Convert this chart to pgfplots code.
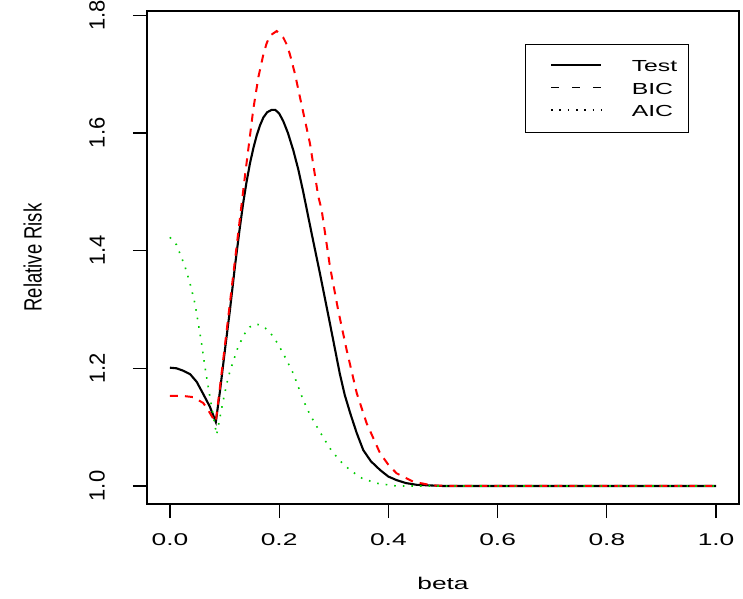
\documentclass[border=0pt]{standalone}
\usepackage{fontspec}
\usepackage{pgfplots}
\pgfplotsset{compat=1.18}
\setmainfont{Liberation Sans}
\newfontfamily\hfont{Liberation Sans}[FakeStretch=1.55]
\newfontfamily\vfont{Liberation Sans}[FakeStretch=0.74]
\definecolor{rred}{RGB}{255,0,0}
\definecolor{rgreen}{RGB}{0,205,0}

\begin{document}
\begin{tikzpicture}
\path[use as bounding box] (-147pt,-94pt) rectangle (596pt,504pt);
\begin{axis}[
  scale only axis, width=592pt, height=493pt,
  xmin=-0.042, xmax=1.042, ymin=0.9694, ymax=1.8071,
  xtick={0,0.2,0.4,0.6,0.8,1.0}, ytick={1.0,1.2,1.4,1.6,1.8},
  tick pos=left, tick align=outside, major tick length=14pt,
  tick style={black, line width=1.3pt},
  axis line style={black, line width=1.5pt},
  /pgf/number format/.cd, fixed, fixed zerofill, precision=1, assume math mode=true,
  /pgfplots/.cd,
  xticklabel style={font=\hfont\fontsize{17}{17}\selectfont, anchor=north, inner sep=0pt},
  yticklabel style={font=\fontsize{22}{22}\selectfont, rotate=90, anchor=south, inner sep=0pt},
  xticklabel shift=15pt, yticklabel shift=28pt,
  xlabel={beta}, ylabel={Relative Risk},
  xlabel style={font=\hfont\fontsize{17}{17}\selectfont, at={(axis description cs:0.5,0)}, anchor=north, inner sep=0pt, yshift=-73pt},
  ylabel style={font=\vfont\fontsize{25}{25}\selectfont, at={(axis description cs:0,0.5)}, anchor=south, inner sep=0pt, yshift=105pt},
  legend style={at={(axis description cs:0.6385,0.933)}, anchor=north west,
    draw=black, line width=1.1pt, inner xsep=11pt, inner ysep=15.5pt,
    row sep=11pt, column sep=30pt,
    font=\hfont\fontsize{16}{16}\selectfont,
    nodes={inner sep=0pt, text height=11.5pt, text depth=0pt}},
  legend cell align=left,
  legend image code/.code={\path (0pt,0pt); \draw[#1] (14pt,0.9pt) -- (64pt,0.9pt);},
]
\addlegendimage{black, line width=1.2pt, solid}
\addlegendentry{Test}
\addlegendimage{black, line width=1.2pt, dash pattern=on 8pt off 13pt}
\addlegendentry{BIC}
\addlegendimage{black, line width=1.2pt, dash pattern=on 1.5pt off 6.8pt}
\addlegendentry{AIC}

% Test
\addplot[black, line width=2.1pt, forget plot] coordinates {
(0.000,1.201) (0.012,1.200) (0.024,1.196) (0.037,1.190) (0.049,1.177)
(0.060,1.158) (0.073,1.135) (0.084,1.109) (0.0916,1.161) (0.1007,1.231)
(0.110,1.300) (0.119,1.373) (0.127,1.432) (0.134,1.480) (0.140,1.515)
(0.1465,1.548) (0.153,1.575) (0.159,1.596) (0.165,1.613) (0.171,1.626)
(0.178,1.635) (0.186,1.639) (0.193,1.639) (0.200,1.633) (0.2075,1.620)
(0.216,1.600) (0.226,1.570) (0.235,1.538) (0.244,1.500) (0.2595,1.429)
(0.2747,1.361) (0.293,1.276) (0.311,1.191) (0.320,1.155) (0.330,1.124)
(0.342,1.090) (0.354,1.061) (0.368,1.042) (0.385,1.027) (0.400,1.016)
(0.415,1.010) (0.432,1.005) (0.452,1.002) (0.500,1.000) (0.600,1.000)
(0.800,1.000) (1.000,1.000)};

% BIC
\addplot[rred, line width=2pt, dash pattern=on 8pt off 7pt, forget plot] coordinates {
(0.000,1.153) (0.024,1.153) (0.043,1.151) (0.061,1.141) (0.070,1.129)
(0.079,1.115) (0.084,1.109) (0.1007,1.239) (0.119,1.383) (0.1374,1.527)
(0.1526,1.640) (0.162,1.695) (0.171,1.733) (0.177,1.752) (0.183,1.765)
(0.1954,1.773) (0.2075,1.762) (0.214,1.750) (0.2198,1.733) (0.229,1.700)
(0.238,1.661) (0.2564,1.582) (0.2716,1.492) (0.2778,1.469)
(0.293,1.373) (0.308,1.299) (0.3236,1.231) (0.342,1.158) (0.360,1.107)
(0.3846,1.056) (0.400,1.036) (0.415,1.0216) (0.4456,1.0073) (0.480,1.001)
(0.520,1.000) (0.600,1.000) (0.800,1.000) (1.000,1.000)};

% AIC
\addplot[rgreen, line width=1.6pt, dash pattern=on 1.6pt off 7pt, forget plot] coordinates {
(0.000,1.4226) (0.012,1.410) (0.0275,1.373) (0.0366,1.345) (0.0458,1.310)
(0.052,1.276) (0.058,1.242) (0.064,1.203) (0.070,1.169) (0.0763,1.135)
(0.0855,1.087) (0.0977,1.146) (0.107,1.186) (0.116,1.212) (0.125,1.237)
(0.137,1.259) (0.146,1.270) (0.156,1.275) (0.164,1.274) (0.171,1.271)
(0.180,1.264) (0.189,1.254) (0.198,1.241) (0.2075,1.225) (0.226,1.191)
(0.244,1.146) (0.256,1.122) (0.269,1.101) (0.281,1.082) (0.293,1.064)
(0.310,1.044) (0.3297,1.027) (0.352,1.013) (0.3786,1.0046) (0.415,1.000)
(0.600,1.000) (0.800,1.000) (1.000,1.000)};
\end{axis}
\end{tikzpicture}
\end{document}
